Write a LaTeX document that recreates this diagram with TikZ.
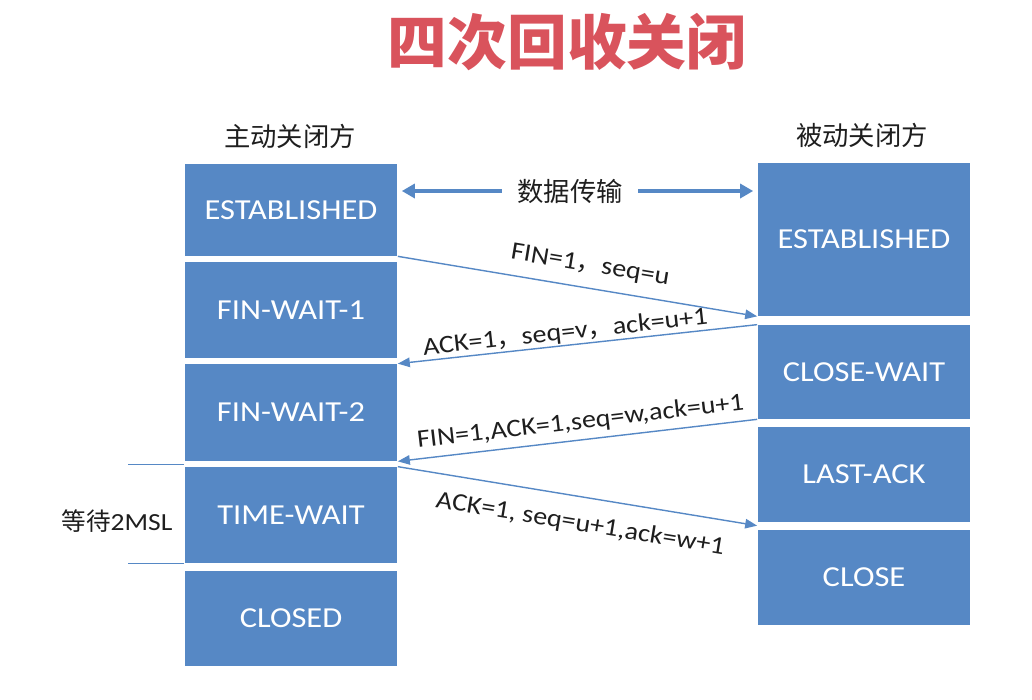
\documentclass[tikz,border=0pt]{standalone}
\usepackage{fontspec}
\setmainfont{Carlito}[FakeStretch=1.12]
\newfontfamily\cjk{Noto Sans CJK SC}
\usepackage{xcolor}
\usepackage{tikz}
\usetikzlibrary{arrows.meta,calc}

\definecolor{boxblue}{RGB}{86,136,197}
\definecolor{titlered}{RGB}{217,83,92}
\definecolor{labelgray}{RGB}{30,30,30}
\newcommand{\fwc}{{\cjk ，}}

\tikzset{
  state/.style={fill=boxblue, text=white, minimum width=4.26cm, inner sep=0pt,
    font=\fontsize{16.5}{18}\selectfont},
  msg/.style={draw=boxblue, line width=0.8pt, -{Triangle[length=2.4mm,width=1.9mm]}},
  msglabel/.style={sloped, text=labelgray, inner sep=0pt, font=\fontsize{14.3}{16}\selectfont},
  datarrow/.style={draw=boxblue, line width=2.5pt, -{Triangle[length=2.6mm,width=2.8mm]},
    shorten >=0.8mm},
  head/.style={text=labelgray, font=\cjk\fontsize{15}{18}\selectfont}
}

\begin{document}
\begin{tikzpicture}[x=0.02cm, y=-0.02cm]
  \useasboundingbox (0,0) rectangle (1032,700);
  \node[font=\cjk\bfseries\fontsize{34}{40}\selectfont, text=titlered] (title) at (567,42) {四次回收关闭};
  \node[head] (active) at (290,136) {主动关闭方};
  \node[head] (passive) at (862,135) {被动关闭方};

  % active side
  \node[state, minimum height=1.84cm] (estL) at (291,210) {ESTABLISHED};
  \node[state, minimum height=1.92cm] (fw1) at (291,310) {FIN-WAIT-1};
  \node[state, minimum height=1.94cm] (fw2) at (291,412.5) {FIN-WAIT-2};
  \node[state, minimum height=1.92cm] (tw) at (291,515) {TIME-WAIT};
  \node[state, minimum height=1.9cm] (closed) at (291,618.5) {CLOSED};

  % passive side
  \node[state, minimum height=3.06cm] (estR) at (864,239.5) {ESTABLISHED};
  \node[state, minimum height=1.88cm] (cw) at (864,372) {CLOSE-WAIT};
  \node[state, minimum height=1.9cm] (la) at (864,474.5) {LAST-ACK};
  \node[state, minimum height=1.9cm] (cl) at (864,577.5) {CLOSE};

  \node[head, inner xsep=0.3cm] (data) at (570,191) {数据传输};
  \draw[datarrow] (data.west) -- (data.west -| estL.east);
  \draw[datarrow] (data.east) -- (data.east -| estR.west);

  \draw[msg] (estL.south east) -- node[msglabel, pos=.525, above=6.5pt] {FIN=1\fwc seq=u} (estR.south west);
  \draw[msg] (cw.north west) -- node[msglabel, pos=.53, above=0.5pt] {ACK=1\fwc seq=v\fwc ack=u+1} (fw2.north east);
  \draw[msg] (cw.south west) -- node[msglabel, pos=.486, above=3.5pt] {FIN=1,ACK=1,seq=w,ack=u+1} (fw2.south east);
  \draw[msg] (tw.north east) -- node[msglabel, pos=.52, below=9pt] {ACK=1, seq=u+1,ack=w+1} ($(cl.north west)+(0,-4)$);

  % 2MSL marks
  \draw[boxblue, line width=0.8pt] ($(tw.north west)+(0,-2)$) coordinate (twtop) -- ++(-56,0);
  \draw[boxblue, line width=0.8pt] (tw.south west) coordinate (twbot) -- ++(-56,0);
  \node[text=labelgray, font=\fontsize{14}{16}\selectfont] (msl) at (117,521) {{\cjk 等待}2MSL};
\end{tikzpicture}
\end{document}
